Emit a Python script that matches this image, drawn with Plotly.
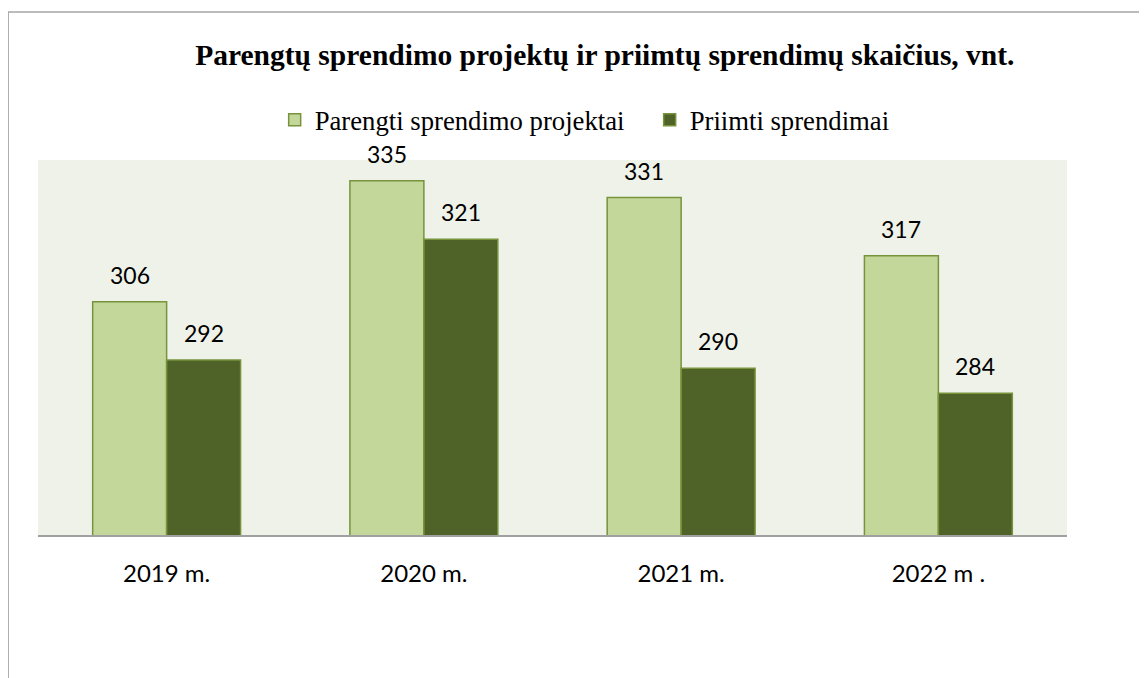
import plotly.graph_objects as go

# Chart data
years = ["2019 m.", "2020 m.", "2021 m.", "2022 m ."]
prepared = [306, 335, 331, 317]
adopted = [292, 321, 290, 284]
series_names = ["Parengti sprendimo projektai", "Priimti sprendimai"]

LIGHT = "#C4D79B"
DARK = "#4F6228"
EDGE = "#77933C"
SERIF = "Liberation Serif"
SANS = "Lato"

fig = go.Figure()
fig.add_trace(go.Bar(x=years, y=prepared, name=series_names[0],
                     marker=dict(color=LIGHT, line=dict(color=EDGE, width=1.5))))
fig.add_trace(go.Bar(x=years, y=adopted, name=series_names[1],
                     marker=dict(color=DARK, line=dict(color=EDGE, width=1.5))))

# value labels above each bar
for i, yr in enumerate(years):
    for val, shift in ((prepared[i], -37), (adopted[i], 37)):
        fig.add_annotation(x=yr, y=val, text=str(val), showarrow=False,
                           xshift=shift, yshift=11, yanchor="bottom",
                           font=dict(family=SANS, size=23, color="#000000"))

# outer frame (clipped at right/bottom like the source)
fig.add_shape(type="rect", xref="paper", yref="paper",
              x0=-0.029, x1=1.2, y0=-0.6, y1=1.395,
              line=dict(color="#A6A6A6", width=1.5), layer="below")

# page body has an 8px margin, so the figure is sized to fit the window
fig.update_layout(
    width=1139, height=670,
    title=dict(text="<b>Parengtų sprendimo projektų ir priimtų sprendimų skaičius, vnt.</b>",
               x=0.524, xanchor="center", y=0.93, yanchor="middle",
               font=dict(family=SERIF, size=29.5, color="#000000")),
    legend=dict(orientation="h", x=0.230, xanchor="left", y=1.107, yanchor="middle",
                font=dict(family=SERIF, size=26.7, color="#000000"),
                itemwidth=30, entrywidth=330, traceorder="normal",
                bgcolor="rgba(0,0,0,0)"),
    barmode="group", bargap=0.425, bargroupgap=0,
    plot_bgcolor="#EFF2E9", paper_bgcolor="#FFFFFF",
    margin=dict(l=30, r=80, t=152, b=143),
    showlegend=True,
)
fig.update_xaxes(showline=True, linecolor="#A0A0A0", linewidth=2, ticks="",
                 tickfont=dict(family=SANS, size=24, color="#000000"), ticklabelstandoff=16)
fig.update_yaxes(range=[250, 340], visible=False, showgrid=False)

fig.write_html("out.html")
